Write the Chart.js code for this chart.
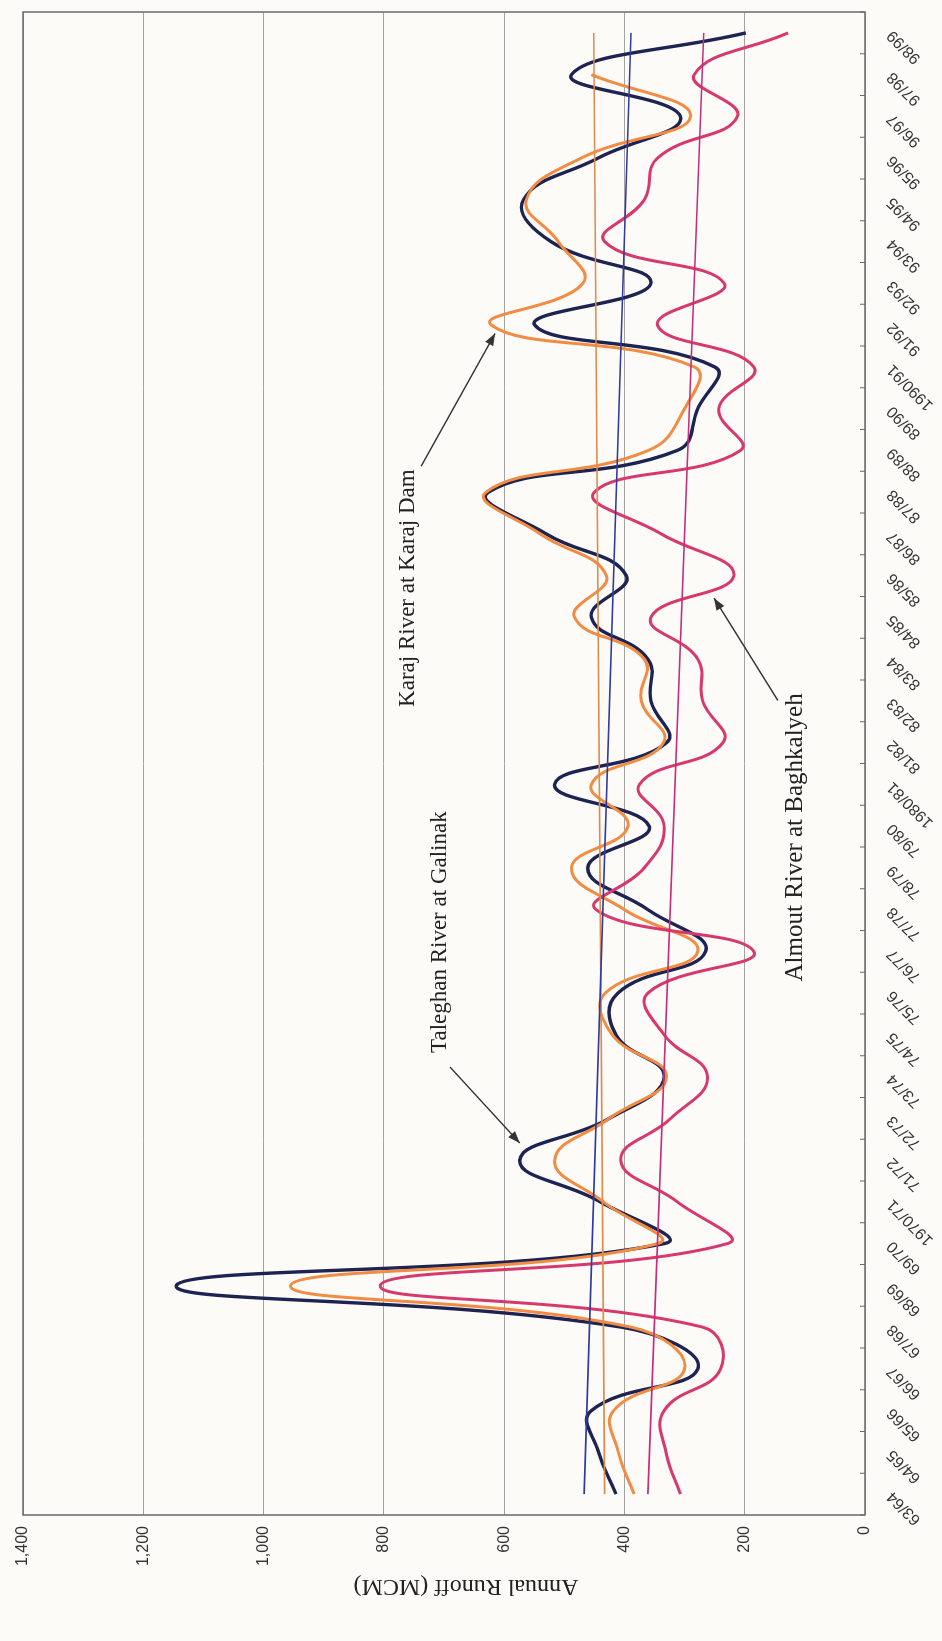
<!DOCTYPE html>
<html><head><meta charset="utf-8">
<script src="https://cdn.jsdelivr.net/npm/chart.js@4.4.1/dist/chart.umd.min.js"></script>
<style>
html,body{margin:0;padding:0;background:#fdfbf8;overflow:hidden;width:942px;height:1641px;}
#wrap{position:absolute;left:0;top:0;width:1641px;height:942px;transform-origin:0 0;transform:translate(0,1641px) rotate(-90deg);}
canvas{display:block;}
</style></head><body>
<div id="wrap"><canvas id="c" width="1641" height="942"></canvas></div>
<script>
const categories = ['63/64','64/65','65/66','66/67','67/68','68/69','69/70','1970/71','71/72','72/73','73/74','74/75','75/76','76/77','77/78','78/79','79/80','1980/81','81/82','82/83','83/84','84/85','85/86','86/87','87/88','88/89','89/90','1990/91','91/92','92/93','93/94','94/95','95/96','96/97','97/98','98/99'];

const taleghan = [414,443,455,278,405,1145,334,440,574,425,334,414,411,265,361,461,359,516,330,356,361,455,397,530,626,312,278,250,549,356,522,568,444,307,488,198];
const karaj    = [384,410,418,300,389,955,345,435,516,425,330,420,432,278,400,488,394,455,335,372,367,483,430,540,630,360,300,284,621,469,510,563,472,290,455,null];
const almout   = [307,331,334,240,270,806,229,312,406,323,262,334,361,185,447,367,334,375,236,270,278,356,218,339,450,207,243,185,345,234,433,367,345,212,284,128];

// linear trend lines: value at first and last year
const taleghanTrend = [467, 389];
const karajTrend    = [433, 451];
const almoutTrend   = [361, 268];

const valueTicks = [0,200,400,600,800,1000,1200,1400];
const axisTitle = 'Annual Runoff (MCM)';

function endpoints(pair){
  const a = categories.map(()=>null);
  a[0] = pair[0]; a[a.length-1] = pair[1];
  return a;
}

// annotations: [category index, value] anchors
const notes = [
  {text:'Taleghan River at Galinak', at:[13.46,707], tail:[10.23,690], tip:[8.41,574], size:23},
  {text:'Karaj River at Karaj Dam', at:[21.7,760], tail:[24.62,738], tip:[27.8,615], size:23},
  {text:'Almout River at Baghkalyeh', at:[15.73,115], tail:[19.01,145], tip:[21.46,251], size:25}
];

const framePlugin = {
  id:'frame',
  beforeDatasetsDraw(chart){
    const {ctx, chartArea:a, scales:{x}} = chart;
    ctx.save();
    ctx.strokeStyle = '#6a6a6a';
    ctx.lineWidth = 1.5;
    ctx.strokeRect(a.left, a.top, a.right-a.left, a.bottom-a.top);
    ctx.lineWidth = 1;
    ctx.beginPath();
    for(let i=0;i<=categories.length;i++){
      const px = x.getPixelForValue(i-0.5);
      ctx.moveTo(px, a.bottom); ctx.lineTo(px, a.bottom-5);
    }
    ctx.stroke();
    ctx.restore();
  },
  afterDraw(chart){
    const {ctx, chartArea:a} = chart;
    ctx.save();
    ctx.translate(55, (a.top+a.bottom)/2 + 22);
    ctx.rotate(-Math.PI/2);
    ctx.fillStyle = '#222';
    ctx.font = '24px "Liberation Serif"';
    ctx.textAlign = 'center';
    ctx.textBaseline = 'middle';
    ctx.fillText(axisTitle, 0, 0);
    ctx.restore();
  }
};

const notePlugin = {
  id:'notes',
  afterDatasetsDraw(chart){
    const {ctx, scales:{x,y}} = chart;
    ctx.save();
    notes.forEach(n=>{
      const tx = x.getPixelForValue(n.at[0]), ty = y.getPixelForValue(n.at[1]);
      ctx.fillStyle = '#222';
      ctx.font = n.size+'px "Liberation Serif"';
      ctx.textAlign = 'center';
      ctx.textBaseline = 'middle';
      ctx.fillText(n.text, tx, ty);
      const x0 = x.getPixelForValue(n.tail[0]), y0 = y.getPixelForValue(n.tail[1]);
      const x1 = x.getPixelForValue(n.tip[0]), y1 = y.getPixelForValue(n.tip[1]);
      ctx.strokeStyle = '#333'; ctx.lineWidth = 1.4;
      ctx.beginPath(); ctx.moveTo(x0,y0); ctx.lineTo(x1,y1); ctx.stroke();
      const ang = Math.atan2(y1-y0, x1-x0), L = 12, W = 4.5;
      ctx.beginPath();
      ctx.moveTo(x1,y1);
      ctx.lineTo(x1 - L*Math.cos(ang) + W*Math.sin(ang), y1 - L*Math.sin(ang) - W*Math.cos(ang));
      ctx.lineTo(x1 - L*Math.cos(ang) - W*Math.sin(ang), y1 - L*Math.sin(ang) + W*Math.cos(ang));
      ctx.closePath(); ctx.fillStyle = '#333'; ctx.fill();
    });
    ctx.restore();
  }
};

Chart.defaults.font.family = '"Liberation Sans", Arial, sans-serif';

new Chart(document.getElementById('c'), {
  type:'line',
  data:{
    labels: categories,
    datasets:[
      {label:'Taleghan trend', data:endpoints(taleghanTrend), borderColor:'#2f3c9e', borderWidth:1.6, spanGaps:true, tension:0},
      {label:'Karaj trend', data:endpoints(karajTrend), borderColor:'#e08a4c', borderWidth:1.6, spanGaps:true, tension:0},
      {label:'Almout trend', data:endpoints(almoutTrend), borderColor:'#c2307a', borderWidth:1.6, spanGaps:true, tension:0},
      {label:'Almout River at Baghkalyeh', data:almout, borderColor:'#d8396c', borderWidth:3, tension:0.45},
      {label:'Karaj River at Karaj Dam', data:karaj, borderColor:'#f28c43', borderWidth:3, tension:0.45},
      {label:'Taleghan River at Galinak', data:taleghan, borderColor:'#1e2452', borderWidth:3.4, tension:0.45}
    ]
  },
  options:{
    responsive:false, animation:false, devicePixelRatio:1,
    layout:{padding:{top:23,right:12,bottom:0,left:0}},
    plugins:{legend:{display:false}, tooltip:{enabled:false}},
    elements:{point:{radius:0}, line:{capBezierPoints:true}},
    scales:{
      x:{
        type:'category', offset:true,
        grid:{display:false, drawTicks:false}, border:{display:false},
        ticks:{autoSkip:false, minRotation:45, maxRotation:45, padding:18, color:'#333', font:{size:16}},
        afterFit(s){ s.height = 77; }
      },
      y:{
        min:0, max:1400,
        afterBuildTicks(s){ s.ticks = valueTicks.map(v=>({value:v})); },
        ticks:{padding:11, color:'#333', font:{size:16}, callback:v=>v.toLocaleString('en-US')},
        grid:{color:'#a3a3a3', lineWidth:1, drawTicks:false}, border:{display:false},
        afterFit(s){ s.width = 126; }
      }
    }
  },
  plugins:[framePlugin, notePlugin]
});
</script>
</body></html>
